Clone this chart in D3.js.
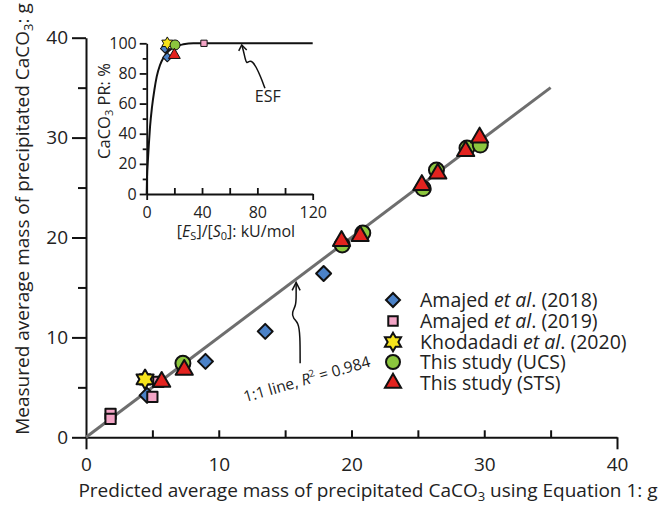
<!DOCTYPE html>
<html>
<head>
<meta charset="utf-8">
<script src="https://cdn.jsdelivr.net/npm/d3@7"></script>
<style>
  body { margin: 0; background: #fff; }
  text { font-family: "Open Sans", "Noto Sans", sans-serif; fill: #222; }
</style>
</head>
<body>
<div id="container"></div>
<script>
// main plot data: [predicted, measured] in g
var amajed2018 = [[4.6, 4.2], [9.0, 7.6], [13.5, 10.6], [17.9, 16.4]];
var amajed2019 = [[1.85, 2.35], [1.85, 1.85], [5.0, 4.05], [4.45, 5.8], [5.45, 5.55]];
var khodadadi2020 = [[4.45, 5.8]];
var studyUCS = [[7.3, 7.4], [19.3, 19.25], [20.85, 20.45], [25.4, 24.9], [26.4, 26.75], [28.7, 28.95], [29.7, 29.25]];
var studySTS = [[5.7, 5.55], [7.4, 6.75], [19.25, 19.65], [20.65, 20.15], [25.3, 25.25], [26.5, 26.4], [28.6, 28.65], [29.65, 30.0]];
var xTicks = [0, 5, 10, 15, 20, 25, 30, 35, 40];
var yTicks = [0, 5, 10, 15, 20, 25, 30, 35, 40];
var oneToOne = [0, 35];

// inset data: [Es/S0 kU/mol, PR %]
var esfX = [0, 0.24, 0.72, 1.45, 2.41, 3.86, 5.54, 7.23, 9.64, 12.5, 16.1, 20.5, 26.5, 33.7, 120];
var esfY = [0, 11.5, 20.3, 31.4, 44.6, 57.9, 69.0, 77.9, 85.6, 91.1, 95.1, 97.8, 99.3, 100, 100];
var insetA2018 = [[13.2, 96.5], [14.9, 90.7]];
var insetA2019 = [[41.4, 100]];
var insetK2020 = [[14.9, 100]];
var insetUCS = [[20.5, 98.9]];
var insetSTS = [[20.0, 92.2]];
var insetXTicks = [0, 20, 40, 60, 80, 100, 120];
var insetYTicks = [0, 10, 20, 30, 40, 50, 60, 70, 80, 90, 100];

var legendNames = ["Amajed|2018", "Amajed|2019", "Khodadadi|2020", "This study (UCS)", "This study (STS)"];

var svg = d3.select("#container").append("svg")
      .attr("width", 669)
      .attr("height", 505)
      .style("background", "#fff");

var x = d3.scaleLinear().domain([0, 40]).range([86, 617]);
var y = d3.scaleLinear().domain([0, 40]).range([437.3, 37.7]);

// symbol helpers
function hexagram(R) {
  var pts = [];
  for (var i = 0; i < 12; i++) {
    var r = i % 2 == 0 ? R : R / Math.sqrt(3);
    var a = -Math.PI / 2 + i * Math.PI / 6;
    pts.push([r * Math.cos(a), r * Math.sin(a)]);
  }
  return "M" + pts.join("L") + "Z";
}
var styles = [
  {fill: "#4b82c8", shape: function(s) { return d3.symbol(d3.symbolSquare, s * s * 0.5)(); }, rot: 45},
  {fill: "#f3a5c6", shape: function(s) { return d3.symbol(d3.symbolSquare, s * s * 0.62)(); }, rot: 0},
  {fill: "#f6e41c", shape: function(s) { return hexagram(s * 0.58); }, rot: 0},
  {fill: "#8cc63e", shape: function(s) { return d3.symbol(d3.symbolCircle, Math.PI * s * s / 4)(); }, rot: 0},
  {fill: "#e3231f", shape: function(s) { return d3.symbol(d3.symbolTriangle, s * s * 0.5)(); }, rot: 0}
];

function drawPoints(g, data, st, size, sw, sx, sy) {
  g.selectAll(null).data(data).enter().append("path")
    .attr("d", st.shape(size))
    .attr("transform", function(d) { return "translate(" + sx(d[0]) + "," + sy(d[1]) + ") rotate(" + st.rot + ")"; })
    .attr("fill", st.fill)
    .attr("stroke", "#111")
    .attr("stroke-width", sw)
    .attr("stroke-linejoin", "round");
}

// ---------- main axes ----------
var xAxis = svg.append("g").attr("transform", "translate(0," + y(0) + ")")
  .call(d3.axisBottom(x).tickValues(xTicks).tickSizeOuter(0).tickSizeInner(-7)
    .tickFormat(function(d) { return d % 10 == 0 ? d : ""; }));
xAxis.select(".domain").attr("stroke-width", 2).attr("stroke", "#111");
xAxis.selectAll(".tick line").attr("stroke-width", 2).attr("stroke", "#111")
  .filter(function(d) { return d == 0 || d == 40; }).attr("y2", 12);
xAxis.selectAll(".tick text").attr("y", 20).attr("font-size", 19).style("font-family", "'Open Sans'").attr("fill", "#222");

var yAxis = svg.append("g").attr("transform", "translate(" + x(0) + ",0)")
  .call(d3.axisLeft(y).tickValues(yTicks).tickSizeOuter(0)
    .tickFormat(function(d) { return d % 10 == 0 ? d : ""; }));
yAxis.select(".domain").attr("stroke-width", 2).attr("stroke", "#111");
yAxis.selectAll(".tick line").attr("stroke-width", 2).attr("stroke", "#111")
  .attr("x2", function(d) { return d % 10 == 0 ? -14 : -8; });
yAxis.selectAll(".tick text").attr("x", -18).attr("font-size", 19).style("font-family", "'Open Sans'").attr("fill", "#222");

// axis titles
var xt = svg.append("text").attr("x", 368).attr("y", 497).attr("text-anchor", "middle").attr("font-size", 19);
xt.append("tspan").text("Predicted average mass of precipitated CaCO");
xt.append("tspan").text("3").attr("font-size", 13).attr("dy", 4);
xt.append("tspan").text(" using Equation 1: g").attr("dy", -4);

var yt = svg.append("text").attr("transform", "translate(29,219) rotate(-90)").attr("text-anchor", "middle").attr("font-size", 19);
yt.append("tspan").text("Measured average mass of precipitated CaCO");
yt.append("tspan").text("3").attr("font-size", 13).attr("dy", 4);
yt.append("tspan").text(": g").attr("dy", -4);

// 1:1 line
svg.append("line")
  .attr("x1", x(oneToOne[0])).attr("y1", y(oneToOne[0]))
  .attr("x2", x(oneToOne[1])).attr("y2", y(oneToOne[1]))
  .attr("stroke", "#6e6e6e").attr("stroke-width", 3);

// annotation arrow for the 1:1 line (data units)
var arrowPts = [[16.13, 7.4], [16.13, 10.2], [16.0, 11.5], [15.6, 11.9], [15.5, 12.5], [15.83, 13.2], [15.83, 14.3], [15.83, 15.5]];
var lineGen = d3.line().x(function(d) { return x(d[0]); }).y(function(d) { return y(d[1]); }).curve(d3.curveBasis);
svg.append("path").attr("d", lineGen(arrowPts)).attr("fill", "none").attr("stroke", "#111").attr("stroke-width", 1.5);
var tip = arrowPts[arrowPts.length - 1];
svg.append("path")
  .attr("d", "M" + (x(tip[0]) - 4) + "," + (y(tip[1]) + 8) + "L" + x(tip[0]) + "," + y(tip[1]) + "L" + (x(tip[0]) + 4) + "," + (y(tip[1]) + 8))
  .attr("fill", "none").attr("stroke", "#111").attr("stroke-width", 1.5);

var ann = svg.append("text").attr("transform", "translate(" + x(12.0) + "," + y(3.5) + ") rotate(-16)").attr("font-size", 15.5);
ann.append("tspan").text("1:1 line, ");
ann.append("tspan").text("R").attr("font-style", "italic");
ann.append("tspan").text("2").attr("font-size", 10).attr("dy", -6);
ann.append("tspan").text(" = 0.984").attr("dy", 6);

// main points
var mainSets = [amajed2018, amajed2019, khodadadi2020, studyUCS, studySTS];
var mainSizes = [15, 13, 17, 15, 16];
var gPts = svg.append("g");
mainSets.forEach(function(set, i) { drawPoints(gPts, set, styles[i], mainSizes[i], 2, x, y); });

// legend
var legY = [300, 321, 342, 362, 383];
var leg = svg.append("g");
legendNames.forEach(function(name, i) {
  var row = leg.append("g").attr("transform", "translate(0," + legY[i] + ")");
  row.append("path").attr("d", styles[i].shape(mainSizes[i] - 1))
    .attr("transform", "translate(393,0) rotate(" + styles[i].rot + ")")
    .attr("fill", styles[i].fill).attr("stroke", "#111").attr("stroke-width", 2);
  var t = row.append("text").attr("x", 420).attr("y", 7).attr("font-size", 19.5);
  if (name.indexOf("|") > 0) {
    var parts = name.split("|");
    t.append("tspan").text(parts[0] + " ");
    t.append("tspan").text("et al").attr("font-style", "italic");
    t.append("tspan").text(". (" + parts[1] + ")");
  } else {
    t.text(name);
  }
});

// ---------- inset ----------
var ix = d3.scaleLinear().domain([0, 120]).range([146.7, 312.7]);
var iy = d3.scaleLinear().domain([0, 100]).range([194, 43.3]);

var ixAxis = svg.append("g").attr("transform", "translate(0," + iy(0) + ")")
  .call(d3.axisBottom(ix).tickValues(insetXTicks).tickSizeOuter(0).tickSizeInner(-6)
    .tickFormat(function(d) { return d % 40 == 0 ? d : ""; }));
ixAxis.select(".domain").attr("stroke-width", 1.8).attr("stroke", "#111");
ixAxis.selectAll(".tick line").attr("stroke-width", 1.8).attr("stroke", "#111")
  .filter(function(d) { return d == 0 || d == 120; }).attr("y2", 6);
ixAxis.selectAll(".tick text").attr("y", 13).attr("font-size", 16).style("font-family", "'Open Sans'").attr("fill", "#222");

var iyAxis = svg.append("g").attr("transform", "translate(" + ix(0) + ",0)")
  .call(d3.axisLeft(iy).tickValues(insetYTicks).tickSizeOuter(0)
    .tickFormat(function(d) { return d % 20 == 0 ? d : ""; }));
iyAxis.select(".domain").attr("stroke-width", 1.8).attr("stroke", "#111");
iyAxis.selectAll(".tick line").attr("stroke-width", 1.8).attr("stroke", "#111")
  .attr("x2", function(d) { return d % 20 == 0 ? -7 : -4; });
iyAxis.selectAll(".tick text").attr("x", -10).attr("font-size", 16).style("font-family", "'Open Sans'").attr("fill", "#222");

var ixt = svg.append("text").attr("x", 236).attr("y", 237).attr("text-anchor", "middle").attr("font-size", 16);
ixt.append("tspan").text("[");
ixt.append("tspan").text("E").attr("font-style", "italic");
ixt.append("tspan").text("S").attr("font-size", 11).attr("dy", 3);
ixt.append("tspan").text("]/[").attr("dy", -3);
ixt.append("tspan").text("S").attr("font-style", "italic");
ixt.append("tspan").text("0").attr("font-size", 11).attr("dy", 3);
ixt.append("tspan").text("]: kU/mol").attr("dy", -3);

var iyt = svg.append("text").attr("transform", "translate(110,111) rotate(-90)").attr("text-anchor", "middle").attr("font-size", 16.5);
iyt.append("tspan").text("CaCO");
iyt.append("tspan").text("3").attr("font-size", 11).attr("dy", 3);
iyt.append("tspan").text(" PR: %").attr("dy", -3);

// ESF curve
var esf = esfX.map(function(v, i) { return [v, esfY[i]]; });
svg.append("path")
  .attr("d", d3.line().x(function(d) { return ix(d[0]); }).y(function(d) { return iy(d[1]); }).curve(d3.curveMonotoneX)(esf))
  .attr("fill", "none").attr("stroke", "#111").attr("stroke-width", 2);

// ESF label and arrow
var esfArrow = [[85.5, 70.1], [82.4, 77.8], [79.0, 84.5], [76.6, 87.8], [74.2, 88.5], [72.3, 86.3], [71.1, 90.0], [69.8, 95.6], [68.7, 98.9]];
svg.append("path")
  .attr("d", d3.line().x(function(d) { return ix(d[0]); }).y(function(d) { return iy(d[1]); }).curve(d3.curveBasis)(esfArrow))
  .attr("fill", "none").attr("stroke", "#111").attr("stroke-width", 1.5);
var etip = esfArrow[esfArrow.length - 1];
svg.append("path")
  .attr("d", "M" + (ix(etip[0]) - 3) + "," + (iy(etip[1]) + 6) + "L" + ix(etip[0]) + "," + iy(etip[1]) + "L" + (ix(etip[0]) + 5) + "," + (iy(etip[1]) + 5))
  .attr("fill", "none").attr("stroke", "#111").attr("stroke-width", 1.5);
svg.append("text").attr("x", ix(87.5)).attr("y", iy(61)).attr("text-anchor", "middle").attr("font-size", 16).text("ESF");

var insetSets = [insetA2018, insetA2019, insetK2020, insetUCS, insetSTS];
var insetSizes = [9, 8, 11, 10, 11];
var gIn = svg.append("g");
insetSets.forEach(function(set, i) { drawPoints(gIn, set, styles[i], insetSizes[i], 1, ix, iy); });
</script>
</body>
</html>
